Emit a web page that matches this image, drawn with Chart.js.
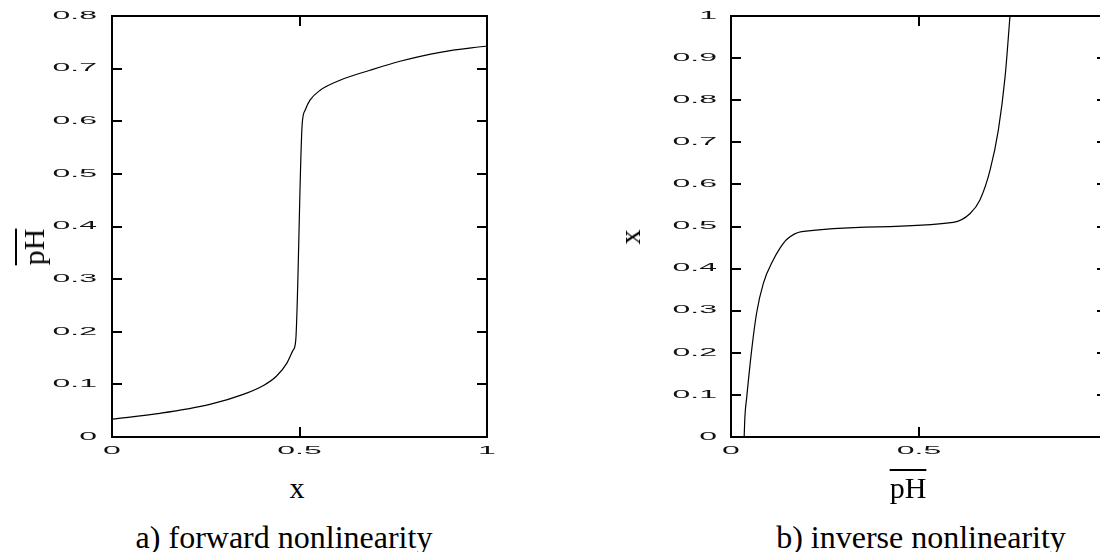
<!DOCTYPE html>
<html>
<head>
<meta charset="utf-8">
<script src="https://cdn.jsdelivr.net/npm/chart.js@4"></script>
<style>
  html, body { margin: 0; padding: 0; background: #fff; overflow: hidden; }
  body { width: 1100px; height: 552px; position: relative; }
  canvas { position: absolute; top: 0; }
  .lbl { position: absolute; font-family: "Liberation Serif", serif; color: #000; white-space: nowrap; line-height: 1; }
  .bar { text-decoration: overline; text-decoration-thickness: 2px; }
</style>
</head>
<body>
<canvas id="fwdChart" width="540" height="470" style="left:0"></canvas>
<canvas id="invChart" width="560" height="470" style="left:560px"></canvas>

<div class="lbl" style="font-size:30px; left:297px; top:473px; transform:translateX(-50%)">x</div>
<div class="lbl" style="font-size:30px; left:34px; top:247px; transform:translate(-50%,-50%) rotate(-90deg)"><span class="bar">pH</span></div>
<div class="lbl" style="font-size:30px; left:908px; top:473px; transform:translateX(-50%)"><span class="bar">pH</span></div>
<div class="lbl" style="font-size:30px; left:630px; top:237px; transform:translate(-50%,-50%) rotate(-90deg)">x</div>
<div class="lbl" style="font-size:32px; left:284px; top:521px; transform:translateX(-50%)">a) forward nonlinearity</div>
<div class="lbl" style="font-size:32px; left:921px; top:521px; transform:translateX(-50%)">b) inverse nonlinearity</div>

<script>
// a) forward nonlinearity: pH against x
const fwdX  = [0, 0.128, 0.261, 0.35, 0.404, 0.439, 0.466, 0.483, 0.490, 0.507, 0.515, 0.528, 0.555, 0.608, 0.688, 0.768, 0.875, 1.0];
const fwdPH = [0.034, 0.045, 0.062, 0.081, 0.098, 0.116, 0.140, 0.165, 0.184, 0.593, 0.621, 0.640, 0.659, 0.678, 0.697, 0.714, 0.731, 0.743];

// b) inverse nonlinearity: x against pH
const invPH = [0.035, 0.037, 0.042, 0.055, 0.068, 0.086, 0.112, 0.130, 0.148, 0.188, 0.591, 0.636, 0.662, 0.689, 0.711, 0.729, 0.742];
const invX  = [0, 0.048, 0.096, 0.207, 0.294, 0.365, 0.420, 0.448, 0.469, 0.488, 0.510, 0.531, 0.563, 0.634, 0.729, 0.856, 1.0];

// old plotting package drew its tick numbers wide and flat
const stretchTicks = {
    id: "stretchTicks",
    beforeDraw(chart) {
        const ctx = chart.ctx;
        if (ctx._stretched) return;
        const orig = ctx.fillText.bind(ctx);
        ctx.fillText = function (text, x, y) {
            ctx.save();
            ctx.translate(x, y);
            ctx.scale(3.2, 1);
            orig(text, 0, 0);
            ctx.restore();
        };
        ctx._stretched = true;
    }
};

function axis(pos, max, step, showLabels, pad, size) {
    return {
        type: "linear",
        position: pos,
        min: 0,
        max: max,
        grid: { drawOnChartArea: false, drawTicks: true, tickLength: -10, color: "#000", lineWidth: 2 },
        border: { display: true, color: "#000", width: 2 },
        ticks: {
            display: showLabels,
            stepSize: step,
            padding: pad,
            maxRotation: 0,
            autoSkip: false,
            color: "#111",
            font: { family: "Liberation Sans", size: 10 },
            callback: (v) => String(Number(v.toFixed(2)))
        },
        afterFit(s) {
            if (pos === "left" || pos === "right") s.width = size; else s.height = size;
            s.paddingTop = 0;
            s.paddingBottom = 0;
            s.paddingLeft = 0;
            s.paddingRight = 0;
        }
    };
}

function lineSet(xs, ys) {
    return {
        data: xs.map((v, i) => ({ x: v, y: ys[i] })),
        borderColor: "#000",
        borderWidth: 1.2,
        pointRadius: 0,
        fill: false,
        cubicInterpolationMode: "monotone"
    };
}

const common = {
    responsive: false,
    animation: false,
    plugins: { legend: { display: false }, tooltip: { enabled: false } }
};

new Chart(document.getElementById("fwdChart"), {
    type: "line",
    data: { datasets: [lineSet(fwdX, fwdPH)] },
    plugins: [stretchTicks],
    options: {
        ...common,
        layout: { padding: { top: 16, right: 53, left: 0, bottom: 0 } },
        scales: {
            x: axis("bottom", 1, 0.5, true, 18, 33),
            x2: axis("top", 1, 0.5, false, 0, 0),
            y: axis("left", 0.8, 0.1, true, 25, 112),
            y2: axis("right", 0.8, 0.1, false, 0, 0)
        }
    }
});

new Chart(document.getElementById("invChart"), {
    type: "line",
    data: { datasets: [lineSet(invPH, invX)] },
    plugins: [stretchTicks],
    options: {
        ...common,
        layout: { padding: { top: 16, right: 13, left: 0, bottom: 0 } },
        scales: {
            x: axis("bottom", 1, 0.5, true, 18, 33),
            x2: axis("top", 1, 0.5, false, 0, 0),
            y: axis("left", 1, 0.1, true, 24, 171),
            y2: axis("right", 1, 0.1, false, 0, 0)
        }
    }
});
</script>
</body>
</html>
